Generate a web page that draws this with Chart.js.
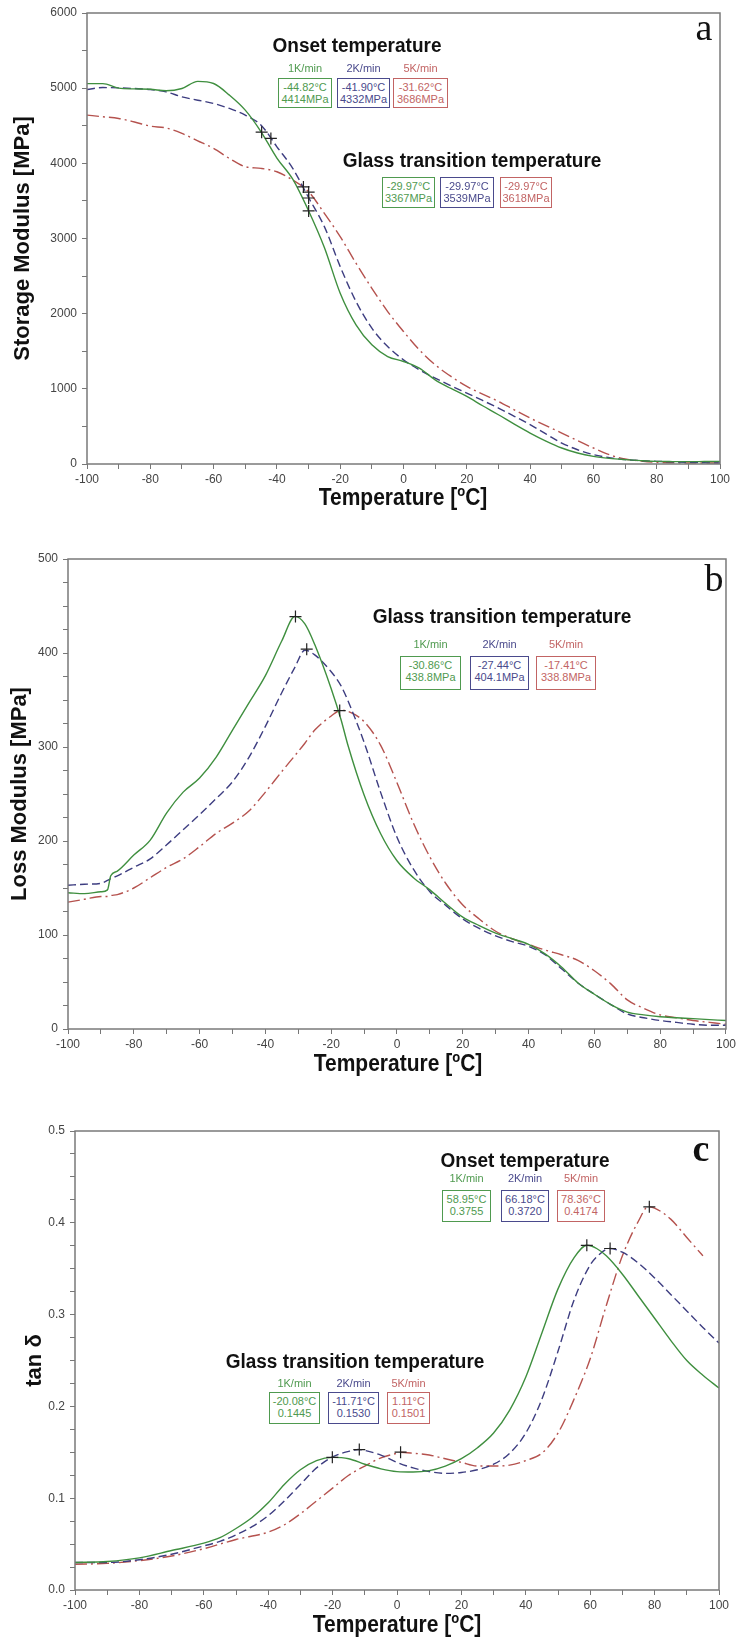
<!DOCTYPE html>
<html lang="en">
<head>
<meta charset="UTF-8">
<title>DMA curves</title>
<script src="https://cdn.jsdelivr.net/npm/chart.js"></script>
<style>
    body {
        margin: 0;
        background: #ffffff;
        font-family: "Liberation Sans", Arial, sans-serif;
    }

    #page {
        position: relative;
        width: 739px;
        height: 1638px;
        overflow: hidden;
    }

    .panel {
        position: absolute;
        left: 0;
    }

    .note {
        position: absolute;
        white-space: nowrap;
    }

    .head {
        font-weight: bold;
        font-size: 19px;
        color: #111;
        transform: translate(-50%, -50%) scaleY(1.08);
    }

    .rate {
        font-size: 11px;
        transform: translate(-50%, -50%);
    }

    .box {
        border: 1.5px solid;
        font-size: 11px;
        line-height: 12px;
        text-align: center;
        box-sizing: border-box;
        padding-top: 2px;
        background: #fff;
    }

    .xtitle {
        font-weight: bold;
        font-size: 21px;
        color: #111;
        transform: translate(-50%, -50%) scaleY(1.1);
    }

    .xtitle sup {
        font-size: 0.62em;
        vertical-align: 0.6em;
        line-height: 0;
    }

    .tag {
        font-family: "Liberation Serif", "DejaVu Serif", serif;
        font-size: 38px;
        color: #111;
        transform: translate(-50%, -50%);
    }
</style>
</head>
<body>
<div id="page">
    <div class="panel" style="top:0px"><canvas id="chartA" width="739" height="520"></canvas></div>
    <div class="panel" style="top:520px"><canvas id="chartB" width="739" height="560"></canvas></div>
    <div class="panel" style="top:1080px"><canvas id="chartC" width="739" height="558"></canvas></div>
</div>
<script>
    // ---- data ----
    const rates = ["1K/min", "2K/min", "5K/min"];

    // (a) storage modulus, MPa
    const tempA = [-100, -95, -90, -85, -80, -75, -70, -65, -60, -55, -50, -45, -40, -35, -30, -25, -20, -15, -10, -5,
        0, 5, 10, 15, 20, 25, 30, 35, 40, 45, 50, 55, 60, 65, 70, 75, 80, 85, 90, 95, 100];
    const storage1K = [5060, 5060, 5000, 4990, 4985, 4965, 4995, 5090, 5062, 4907, 4708, 4420, 4070, 3790, 3370, 2880, 2272, 1851, 1585, 1430,
        1364, 1275, 1120, 1005, 899, 775, 655, 530, 412, 305, 213, 146, 102, 75, 58, 45, 35, 32, 31, 33, 35];
    const storage2K = [4982, 5008, 5004, 4995, 4982, 4951, 4885, 4840, 4796, 4730, 4641, 4508, 4220, 3933, 3545, 3158, 2626, 2161, 1807, 1563,
        1386, 1253, 1143, 1040, 943, 845, 744, 635, 523, 400, 279, 190, 124, 85, 58, 45, 35, 28, 22, 17, 13];
    const storage5K = [4641, 4620, 4597, 4550, 4495, 4470, 4398, 4300, 4198, 4065, 3955, 3933, 3888, 3778, 3623, 3335, 3025, 2671, 2338, 2028,
        1763, 1519, 1320, 1165, 1032, 930, 833, 720, 611, 510, 412, 310, 213, 124, 66, 40, 22, 16, 13, 13, 13];
    const onsetTempA = [-44.82, -41.90, -31.62];
    const onsetValA = [4414, 4332, 3686];
    const tgTempA = [-29.97, -29.97, -29.97];
    const tgValA = [3367, 3539, 3618];

    // (b) loss modulus, MPa
    const tempB = [-100, -95, -90, -88, -87, -85, -80, -75, -70, -65, -60, -55, -50, -45, -40, -35, -31, -28, -25, -20, -17, -15,
        -10, -5, 0, 5, 10, 15, 20, 25, 30, 35, 40, 45, 50, 55, 60, 65, 70, 75, 80, 85, 90, 95, 100];
    const loss1K = [145, 144, 146, 148, 163, 168, 185, 201, 230, 252, 267, 289, 318, 347, 376, 413, 439, 431, 409, 362, 329, 303,
        249, 208, 179, 161, 148, 133, 119, 110, 102, 96, 90, 80, 66, 49, 37, 26, 18, 15, 13, 12, 11, 10, 9];
    const loss2K = [153, 154, 155, 158, 160, 163, 172, 181, 196, 212, 228, 245, 263, 289, 322, 358, 385, 403, 398, 380, 365, 350,
        305, 252, 204, 170, 146, 131, 117, 107, 99, 93, 88, 79, 64, 49, 37, 26, 16, 12, 9, 7, 5, 4, 4];
    const loss5K = [135, 138, 141, 141, 142, 143, 150, 161, 172, 181, 194, 208, 219, 232, 252, 274, 291, 304, 318, 333, 339, 338,
        327, 302, 262, 219, 183, 154, 132, 117, 104, 96, 90, 84, 79, 73, 62, 48, 31, 22, 15, 12, 9, 7, 5];
    const tgTempB = [-30.86, -27.44, -17.41];
    const tgValB = [438.8, 404.1, 338.8];

    // (c) tan delta
    const tempC1K = [-100, -90, -80, -70, -60, -55, -50, -45, -40, -35, -30, -25, -20, -15, -10, -5, 0, 5, 10, 15, 20, 25,
        30, 35, 40, 45, 50, 55, 59, 62, 65, 70, 75, 80, 85, 90, 95, 100];
    const tan1K = [0.030, 0.031, 0.035, 0.043, 0.051, 0.057, 0.067, 0.079, 0.095, 0.115, 0.131, 0.141, 0.1445, 0.143, 0.137, 0.132, 0.129, 0.1285, 0.130, 0.135, 0.143, 0.155,
        0.171, 0.196, 0.232, 0.280, 0.328, 0.362, 0.3755, 0.372, 0.364, 0.344, 0.320, 0.296, 0.272, 0.250, 0.234, 0.220];
    const tempC2K = [-100, -90, -80, -70, -60, -55, -50, -45, -40, -35, -30, -25, -20, -15, -12, -10, -5, 0, 5, 10, 15, 20,
        25, 30, 35, 40, 45, 50, 55, 60, 63, 66, 70, 75, 80, 85, 90, 95, 100];
    const tan2K = [0.030, 0.030, 0.033, 0.039, 0.048, 0.053, 0.060, 0.069, 0.081, 0.097, 0.115, 0.133, 0.145, 0.151, 0.153, 0.152, 0.147, 0.139, 0.133, 0.129, 0.127, 0.128,
        0.131, 0.137, 0.149, 0.171, 0.208, 0.260, 0.316, 0.354, 0.366, 0.372, 0.368, 0.356, 0.340, 0.322, 0.304, 0.286, 0.269];
    const tempC5K = [-100, -90, -80, -70, -60, -50, -40, -35, -30, -25, -20, -15, -10, -5, 0, 1, 5, 10, 15, 20,
        25, 30, 35, 40, 45, 50, 55, 60, 65, 70, 75, 78, 80, 85, 90, 95];
    const tan5K = [0.028, 0.029, 0.032, 0.037, 0.045, 0.055, 0.063, 0.071, 0.083, 0.097, 0.111, 0.125, 0.135, 0.144, 0.149, 0.150, 0.149, 0.147, 0.143, 0.139,
        0.135, 0.135, 0.136, 0.141, 0.149, 0.171, 0.208, 0.252, 0.310, 0.364, 0.402, 0.4174, 0.416, 0.404, 0.384, 0.364];
    const onsetTempC = [58.95, 66.18, 78.36];
    const onsetValC = [0.3755, 0.3720, 0.4174];
    const tgTempC = [-20.08, -11.71, 1.11];
    const tgValC = [0.1445, 0.1530, 0.1501];

    // ---- styling ----
    const lineColors = ["#3f8f3f", "#3d3d80", "#b5524e"];
    const textColors = ["#4f9a4f", "#4a4a8c", "#c26464"];
    const dashes = [[], [8, 4], [12, 4, 2, 4]];

    function xy(xs, ys) {
        return xs.map((x, i) => ({ x: x, y: ys[i] }));
    }

    const framePlugin = {
        id: "frame",
        afterDraw(chart) {
            const { ctx, chartArea: a } = chart;
            ctx.save();
            ctx.strokeStyle = "#7a7a7a";
            ctx.lineWidth = 1.5;
            ctx.strokeRect(a.left, a.top, a.right - a.left, a.bottom - a.top);
            ctx.restore();
        }
    };

    function makeChart(id, series, marks, yOpts, layout) {
        const datasets = [{
            data: marks,
            showLine: false,
            pointStyle: "cross",
            pointRadius: 6,
            borderColor: "#222",
            borderWidth: 1.2
        }];
        series.forEach((s, i) => {
            datasets.push({
                data: s,
                showLine: true,
                borderColor: lineColors[i],
                borderWidth: 1.4,
                borderDash: dashes[i],
                pointRadius: 0,
                cubicInterpolationMode: "monotone",
                fill: false
            });
        });

        return new Chart(document.getElementById(id), {
            type: "scatter",
            data: { datasets },
            plugins: [framePlugin],
            options: {
                responsive: false,
                animation: false,
                layout: { padding: { top: layout.top, right: layout.right, left: 0, bottom: 0 } },
                plugins: { legend: { display: false }, tooltip: { enabled: false } },
                scales: {
                    x: {
                        type: "linear",
                        min: -100,
                        max: 100,
                        border: { display: false },
                        grid: { drawOnChartArea: false, tickLength: 5, color: "#777" },
                        ticks: {
                            stepSize: 10,
                            autoSkip: false,
                            maxRotation: 0,
                            padding: 3,
                            color: "#444",
                            font: { family: "Liberation Sans", size: 12 },
                            callback: v => (v % 20 === 0 ? v : "")
                        },
                        afterFit: s => { s.height = layout.xh; }
                    },
                    y: {
                        min: yOpts.min,
                        max: yOpts.max,
                        border: { display: false },
                        grid: { drawOnChartArea: false, tickLength: 5, color: "#777" },
                        ticks: {
                            stepSize: yOpts.step,
                            autoSkip: false,
                            padding: 5,
                            color: "#444",
                            font: { family: "Liberation Sans", size: 12 },
                            callback: yOpts.label
                        },
                        title: {
                            display: true,
                            text: yOpts.title,
                            color: "#111",
                            font: { family: "Liberation Sans", size: 22, weight: "bold" },
                            padding: { top: layout.tpad, bottom: 0 }
                        },
                        afterFit: s => { s.width = layout.yw; }
                    }
                }
            }
        });
    }

    makeChart("chartA",
        [xy(tempA, storage1K), xy(tempA, storage2K), xy(tempA, storage5K)],
        xy(onsetTempA.concat(tgTempA), onsetValA.concat(tgValA)),
        { min: 0, max: 6000, step: 500, title: "Storage Modulus [MPa]", label: v => (v % 1000 === 0 ? v : "") },
        { top: 13, right: 19, xh: 56, yw: 87, tpad: 10 });

    makeChart("chartB",
        [xy(tempB, loss1K), xy(tempB, loss2K), xy(tempB, loss5K)],
        xy(tgTempB, tgValB),
        { min: 0, max: 500, step: 25, title: "Loss Modulus [MPa]", label: v => (v % 100 === 0 ? v : "") },
        { top: 39, right: 11, xh: 51, yw: 68, tpad: 7 });

    makeChart("chartC",
        [xy(tempC1K, tan1K), xy(tempC2K, tan2K), xy(tempC5K, tan5K)],
        xy(onsetTempC.concat(tgTempC), onsetValC.concat(tgValC)),
        {
            min: 0, max: 0.5, step: 0.025, title: "tan δ",
            label: v => (Math.abs(v * 10 - Math.round(v * 10)) < 1e-6 ? v.toFixed(1) : "")
        },
        { top: 51, right: 20, xh: 48, yw: 75, tpad: 22 });

    // ---- text overlays ----
    const page = document.getElementById("page");

    function note(cls, html, x, y, extra) {
        const d = document.createElement("div");
        d.className = "note " + cls;
        d.innerHTML = html;
        d.style.left = x + "px";
        d.style.top = y + "px";
        Object.assign(d.style, extra || {});
        page.appendChild(d);
    }

    const groups = [
        { title: "Onset temperature", tx: 357, ty: 46, rateY: 68, boxY: 78, boxH: 30, boxX: [278, 337, 393], boxW: [54, 53, 55],
            temps: onsetTempA, vals: onsetValA.map(v => v + "MPa") },
        { title: "Glass transition temperature", tx: 472, ty: 161, rateY: null, boxY: 177, boxH: 31, boxX: [382, 440, 500], boxW: [53, 54, 52],
            temps: tgTempA, vals: tgValA.map(v => v + "MPa") },
        { title: "Glass transition temperature", tx: 502, ty: 617, rateY: 644, boxY: 656, boxH: 34, boxX: [400, 470, 536], boxW: [61, 59, 60],
            temps: tgTempB, vals: tgValB.map(v => v.toFixed(1) + "MPa") },
        { title: "Onset temperature", tx: 525, ty: 1161, rateY: 1178, boxY: 1190, boxH: 32, boxX: [442, 501, 557], boxW: [49, 48, 48],
            temps: onsetTempC, vals: onsetValC.map(v => v.toFixed(4)) },
        { title: "Glass transition temperature", tx: 355, ty: 1362, rateY: 1383, boxY: 1392, boxH: 32, boxX: [269, 328, 387], boxW: [51, 51, 43],
            temps: tgTempC, vals: tgValC.map(v => v.toFixed(4)) }
    ];

    groups.forEach(g => {
        note("head", g.title, g.tx, g.ty);
        for (let i = 0; i < 3; i++) {
            const cx = g.boxX[i] + g.boxW[i] / 2;
            if (g.rateY !== null) note("rate", rates[i], cx, g.rateY, { color: textColors[i] });
            note("box", g.temps[i].toFixed(2) + "°C<br>" + g.vals[i], g.boxX[i], g.boxY,
                { width: g.boxW[i] + "px", height: g.boxH + "px", color: textColors[i], borderColor: textColors[i] });
        }
    });

    note("xtitle", "Temperature [<sup>o</sup>C]", 403, 497);
    note("xtitle", "Temperature [<sup>o</sup>C]", 398, 1063);
    note("xtitle", "Temperature [<sup>o</sup>C]", 397, 1624);

    note("tag", "a", 704, 27);
    note("tag", "b", 714, 578);
    note("tag", "c", 701, 1148, { fontWeight: "bold" });
</script>
</body>
</html>
